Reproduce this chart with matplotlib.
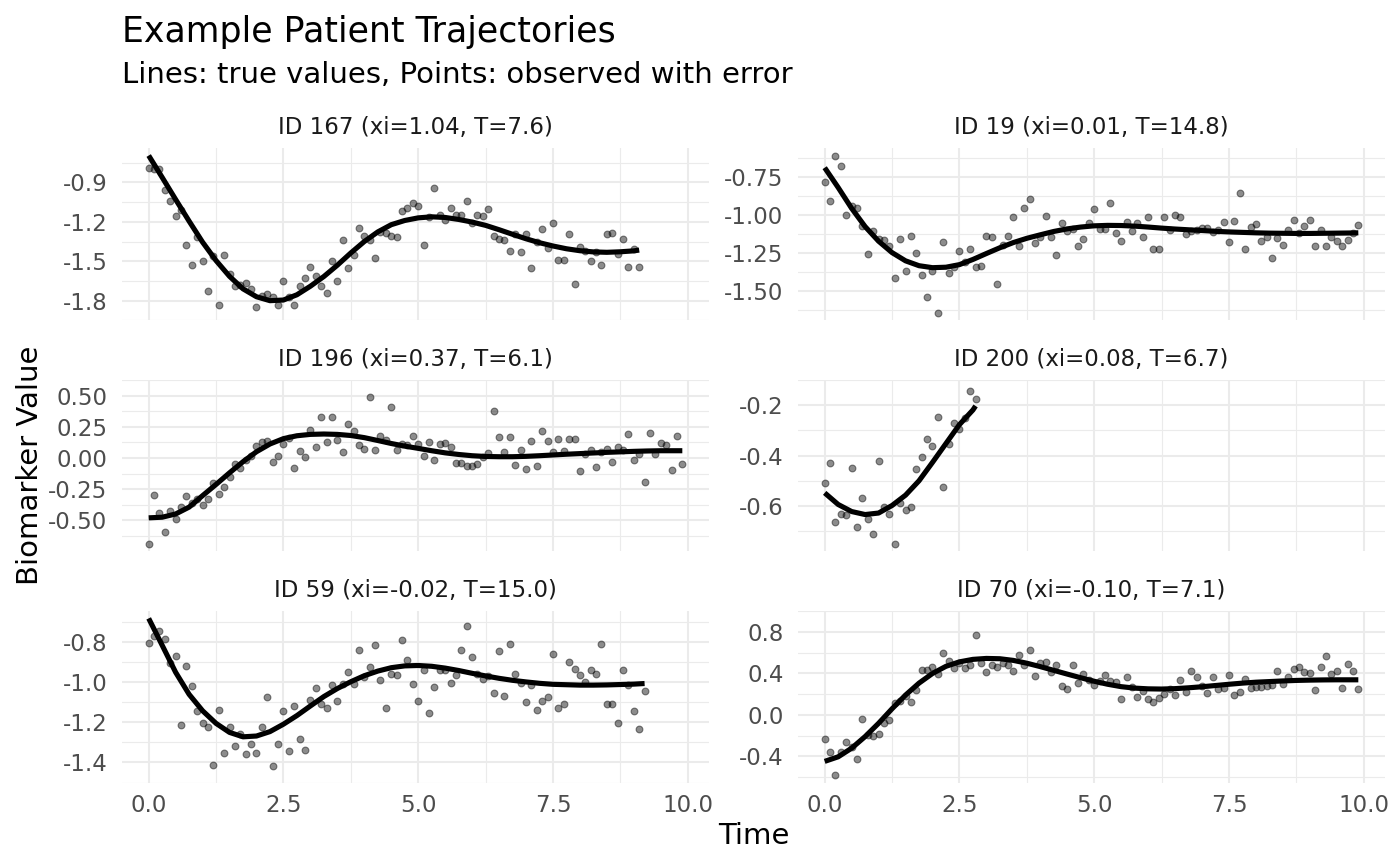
import numpy as np
import matplotlib
matplotlib.use("Agg")
import matplotlib.pyplot as plt

plt.rcParams["font.family"] = ["DejaVu Sans"]
plt.rcParams["axes.unicode_minus"] = False

# observed values, one every 0.1 time units starting at 0
obs_167 = [-0.79, -0.80, -0.80, -0.96, -1.04, -1.155, -1.11, -1.38, -1.53, -1.315,
           -1.50, -1.73, -1.46, -1.83, -1.455, -1.60, -1.69, -1.68, -1.665, -1.71,
           -1.845, -1.765, -1.75, -1.775, -1.83, -1.65, -1.77, -1.83, -1.69, -1.63,
           -1.545, -1.61, -1.69, -1.74, -1.495, -1.65, -1.335, -1.555, -1.455, -1.25,
           -1.31, -1.34, -1.475, -1.275, -1.285, -1.305, -1.315, -1.115, -1.095, -1.06,
           -1.08, -1.375, -1.165, -0.945, -1.145, -1.185, -1.095, -1.145, -1.145, -1.04,
           -1.21, -1.145, -1.155, -1.10, -1.31, -1.33, -1.34, -1.425, -1.29, -1.43,
           -1.29, -1.555, -1.35, -1.255, -1.40, -1.21, -1.49, -1.49, -1.295, -1.675,
           -1.395, -1.42, -1.50, -1.43, -1.525, -1.29, -1.285, -1.445, -1.33, -1.545,
           -1.41, -1.54]
obs_19 = [-0.78, -0.91, -0.61, -0.68, -1.00, -0.94, -0.955, -1.07, -1.255, -1.105,
          -1.155, -1.165, -1.20, -1.41, -1.155, -1.37, -1.14, -1.25, -1.395, -1.54,
          -1.37, -1.64, -1.175, -1.38, -1.34, -1.235, -1.305, -1.225, -1.34, -1.335,
          -1.14, -1.145, -1.45, -1.195, -1.14, -1.015, -1.20, -0.955, -0.895, -1.18,
          -1.145, -1.005, -1.145, -1.26, -1.05, -1.105, -1.09, -1.20, -1.155, -1.05,
          -0.96, -1.09, -1.09, -0.92, -1.115, -1.17, -1.045, -1.105, -1.05, -1.145,
          -1.01, -1.22, -1.225, -1.01, -1.095, -1.00, -1.01, -1.125, -1.105, -1.095,
          -1.085, -1.085, -1.11, -1.095, -1.045, -1.175, -1.035, -0.855, -1.225, -1.075,
          -1.06, -1.17, -1.145, -1.28, -1.15, -1.195, -1.095, -1.03, -1.12, -1.07,
          -1.03, -1.205, -1.095, -1.20, -1.145, -1.17, -1.20, -1.165, -1.115, -1.065]
obs_196 = [-0.69, -0.30, -0.44, -0.59, -0.425, -0.49, -0.39, -0.305, -0.36, -0.325,
           -0.375, -0.325, -0.20, -0.285, -0.23, -0.155, -0.05, -0.08, -0.02, 0.015,
           0.095, 0.13, 0.14, -0.03, 0.015, 0.115, 0.16, -0.08, 0.055, 0.005,
           0.225, 0.09, 0.33, 0.13, 0.325, 0.145, 0.05, 0.27, 0.22, 0.105,
           0.07, 0.49, 0.06, 0.18, 0.145, 0.41, 0.06, 0.11, 0.10, 0.175,
           0.11, 0.015, 0.125, -0.02, 0.11, 0.12, 0.085, -0.04, -0.04, -0.065,
           -0.065, -0.045, 0.01, 0.04, 0.375, 0.17, 0.045, 0.17, -0.055, 0.065,
           -0.085, 0.14, -0.065, 0.22, 0.14, 0.045, 0.15, 0.055, 0.15, 0.15,
           -0.105, 0.035, 0.065, -0.075, 0.05, 0.07, -0.035, 0.09, 0.065, 0.19,
           -0.015, 0.03, -0.195, 0.20, 0.03, 0.12, 0.10, -0.095, 0.175, -0.05]
obs_200 = [-0.51, -0.43, -0.665, -0.63, -0.635, -0.45, -0.685, -0.57, -0.65, -0.71,
           -0.42, -0.605, -0.63, -0.75, -0.59, -0.615, -0.605, -0.455, -0.405, -0.335,
           -0.36, -0.245, -0.525, -0.355, -0.27, -0.295, -0.25, -0.145, -0.175]
obs_59 = [-0.805, -0.77, -0.745, -0.785, -0.905, -0.87, -1.215, -0.92, -1.02, -1.145,
          -1.205, -1.225, -1.415, -1.14, -1.355, -1.225, -1.32, -1.26, -1.36, -1.31,
          -1.355, -1.225, -1.075, -1.42, -1.31, -1.145, -1.345, -1.12, -1.285, -1.34,
          -1.09, -1.03, -1.11, -1.13, -1.015, -1.095, -1.01, -0.95, -1.01, -0.84,
          -0.975, -0.925, -0.815, -0.99, -1.13, -0.96, -0.965, -0.79, -0.89, -1.01,
          -1.095, -0.94, -1.155, -1.025, -0.94, -0.94, -1.005, -0.965, -0.84, -0.72,
          -0.875, -0.96, -0.985, -0.97, -1.055, -0.845, -1.07, -0.81, -0.96, -1.005,
          -1.10, -1.015, -1.14, -1.095, -1.075, -0.86, -1.13, -1.11, -0.90, -0.935,
          -0.965, -1.00, -0.94, -0.96, -0.81, -1.11, -1.11, -1.205, -0.94, -1.015,
          -1.145, -1.235, -1.045]
obs_70 = [-0.23, -0.36, -0.585, -0.36, -0.265, -0.31, -0.43, -0.045, -0.19, -0.20,
          -0.185, -0.08, -0.055, 0.115, 0.135, 0.18, 0.12, 0.235, 0.43, 0.43,
          0.46, 0.395, 0.60, 0.52, 0.455, 0.495, 0.455, 0.475, 0.765, 0.495,
          0.41, 0.475, 0.465, 0.495, 0.48, 0.425, 0.58, 0.475, 0.62, 0.37,
          0.495, 0.505, 0.41, 0.48, 0.28, 0.25, 0.48, 0.305, 0.39, 0.335,
          0.29, 0.33, 0.38, 0.325, 0.315, 0.15, 0.365, 0.27, 0.17, 0.23,
          0.15, 0.125, 0.16, 0.20, 0.245, 0.195, 0.335, 0.215, 0.42, 0.365,
          0.28, 0.21, 0.36, 0.25, 0.26, 0.385, 0.19, 0.22, 0.345, 0.26,
          0.27, 0.265, 0.28, 0.29, 0.425, 0.295, 0.365, 0.445, 0.46, 0.41,
          0.405, 0.24, 0.46, 0.57, 0.39, 0.42, 0.255, 0.49, 0.42, 0.25]

# true values, one every 0.25 time units, last one at the end time
true_167 = [-0.696, -0.862, -1.03, -1.195, -1.355, -1.495, -1.615, -1.71, -1.77, -1.80,
            -1.795, -1.755, -1.69, -1.616, -1.53, -1.437, -1.35, -1.277, -1.222,
            -1.19, -1.17, -1.162, -1.167, -1.182, -1.202, -1.227, -1.26, -1.295, -1.329,
            -1.359, -1.384, -1.405, -1.42, -1.429, -1.432, -1.428, -1.421, -1.415]
true_19 = [-0.688, -0.818, -0.955, -1.075, -1.171, -1.246, -1.300, -1.332, -1.345, -1.342,
           -1.325, -1.291, -1.252, -1.214, -1.180, -1.152, -1.129, -1.107, -1.090,
           -1.078, -1.070, -1.067, -1.068, -1.072, -1.078, -1.085, -1.091, -1.096, -1.101,
           -1.106, -1.110, -1.113, -1.116, -1.118, -1.119, -1.120, -1.120, -1.119, -1.118,
           -1.117, -1.116]
true_196 = [-0.48, -0.475, -0.449, -0.394, -0.302, -0.212, -0.119, -0.030, 0.050, 0.112,
            0.155, 0.178, 0.189, 0.192, 0.189, 0.180, 0.163, 0.140, 0.116, 0.095,
            0.077, 0.058, 0.041, 0.028, 0.018, 0.012, 0.010, 0.010, 0.013, 0.018,
            0.024, 0.030, 0.035, 0.040, 0.045, 0.049, 0.053, 0.056, 0.058, 0.058, 0.058]
true_200 = [-0.548, -0.594, -0.622, -0.634, -0.628, -0.598, -0.557, -0.500, -0.427, -0.352,
            -0.277, -0.219, -0.203]
true_59 = [-0.681, -0.815, -0.950, -1.060, -1.142, -1.205, -1.250, -1.272, -1.268, -1.246,
           -1.209, -1.166, -1.118, -1.071, -1.031, -0.997, -0.967, -0.944, -0.927, -0.918,
           -0.916, -0.920, -0.929, -0.941, -0.955, -0.968, -0.980, -0.990, -0.998, -1.005,
           -1.010, -1.012, -1.014, -1.014, -1.013, -1.011, -1.009, -1.006]
true_70 = [-0.449, -0.405, -0.322, -0.210, -0.082, 0.058, 0.190, 0.305, 0.398, 0.467,
           0.510, 0.534, 0.543, 0.540, 0.524, 0.497, 0.464, 0.428, 0.392,
           0.357, 0.323, 0.294, 0.271, 0.257, 0.250, 0.248, 0.252, 0.260, 0.270,
           0.282, 0.294, 0.305, 0.314, 0.320, 0.326, 0.331, 0.334, 0.336, 0.337, 0.337, 0.337]
true_end = [9.1, 9.9, 9.9, 2.8, 9.2, 9.9]

titles = ["ID 167 (xi=1.04, T=7.6)", "ID 19 (xi=0.01, T=14.8)",
          "ID 196 (xi=0.37, T=6.1)", "ID 200 (xi=0.08, T=6.7)",
          "ID 59 (xi=-0.02, T=15.0)", "ID 70 (xi=-0.10, T=7.1)"]

y_ticks = [[-1.8, -1.5, -1.2, -0.9], [-1.5, -1.25, -1.0, -0.75],
           [-0.5, -0.25, 0.0, 0.25, 0.5], [-0.6, -0.4, -0.2],
           [-1.4, -1.2, -1.0, -0.8], [-0.4, 0.0, 0.4, 0.8]]
y_decimals = [1, 2, 2, 1, 1, 1]
x_ticks = [0, 2.5, 5, 7.5, 10]
x_labels = ["0.0", "2.5", "5.0", "7.5", "10.0"]

obs_all = [obs_167, obs_19, obs_196, obs_200, obs_59, obs_70]
true_all = [true_167, true_19, true_196, true_200, true_59, true_70]

W, H = 1400, 866
fig = plt.figure(figsize=(W / 100, H / 100), dpi=100)

cols_px = [(122, 709), (798, 1385)]
rows_px = [(148, 320.4), (380, 551.4), (611, 782.5)]

grid_col = "#ebebeb"
xmax = max(true_end)
xlim = (-0.05 * xmax, xmax * 1.05)

for i in range(6):
    r, c = divmod(i, 2)
    x0, x1 = cols_px[c]
    y0, y1 = rows_px[r]
    ax = fig.add_axes([x0 / W, 1 - y1 / H, (x1 - x0) / W, (y1 - y0) / H])

    obs = np.array(obs_all[i])
    t_obs = np.arange(len(obs)) * 0.1
    tru = np.array(true_all[i])
    t_true = np.append(np.arange(len(tru) - 1) * 0.25, true_end[i])

    ax.scatter(t_obs, obs, s=24, color="black", alpha=0.45, linewidths=0.8, zorder=3)
    ax.plot(t_true, tru, color="black", lw=3.7, solid_capstyle="butt",
            solid_joinstyle="round", zorder=4)

    lo = min(obs.min(), tru.min())
    hi = max(obs.max(), tru.max())
    pad = (hi - lo) * 0.05
    ax.set_ylim(lo - pad, hi + pad)
    ax.set_xlim(*xlim)

    yt = y_ticks[i]
    step = yt[1] - yt[0]
    minors = [v + step / 2 for v in [yt[0] - step] + yt]
    ax.set_yticks(yt)
    ax.set_yticklabels([f"{v:.{y_decimals[i]}f}" for v in yt])
    ax.set_yticks(minors, minor=True)
    ax.set_xticks(x_ticks)
    ax.set_xticks([1.25, 3.75, 6.25, 8.75], minor=True)
    if r == 2:
        ax.set_xticklabels(x_labels)
    else:
        ax.set_xticklabels([])

    ax.grid(True, which="major", color=grid_col, lw=1.5, zorder=0)
    ax.grid(True, which="minor", color=grid_col, lw=0.8, zorder=0)
    ax.set_axisbelow(True)
    for s in ax.spines.values():
        s.set_visible(False)
    ax.tick_params(which="both", length=0, labelsize=16.5, labelcolor="#4d4d4d")
    ax.tick_params(axis="y", pad=10.5)
    ax.tick_params(axis="x", pad=8.5)

    ax.annotate(titles[i], xy=(0.5, 1), xycoords="axes fraction", xytext=(0, 14.5),
                textcoords="offset points", ha="center", va="center",
                fontsize=16.5, color="#1a1a1a")

fig.text(122 / W, 1 - 42 / H, "Example Patient Trajectories", fontsize=25,
         ha="left", va="baseline")
fig.text(122 / W, 1 - 83 / H, "Lines: true values, Points: observed with error",
         fontsize=21, ha="left", va="baseline")
fig.text(30 / W, 1 - 465 / H, "Biomarker Value", fontsize=21, rotation=90,
         ha="center", va="center")
fig.text(753.5 / W, 1 - 836 / H, "Time", fontsize=21, ha="center", va="center")

fig.savefig("out.png", dpi=100, facecolor="white")
